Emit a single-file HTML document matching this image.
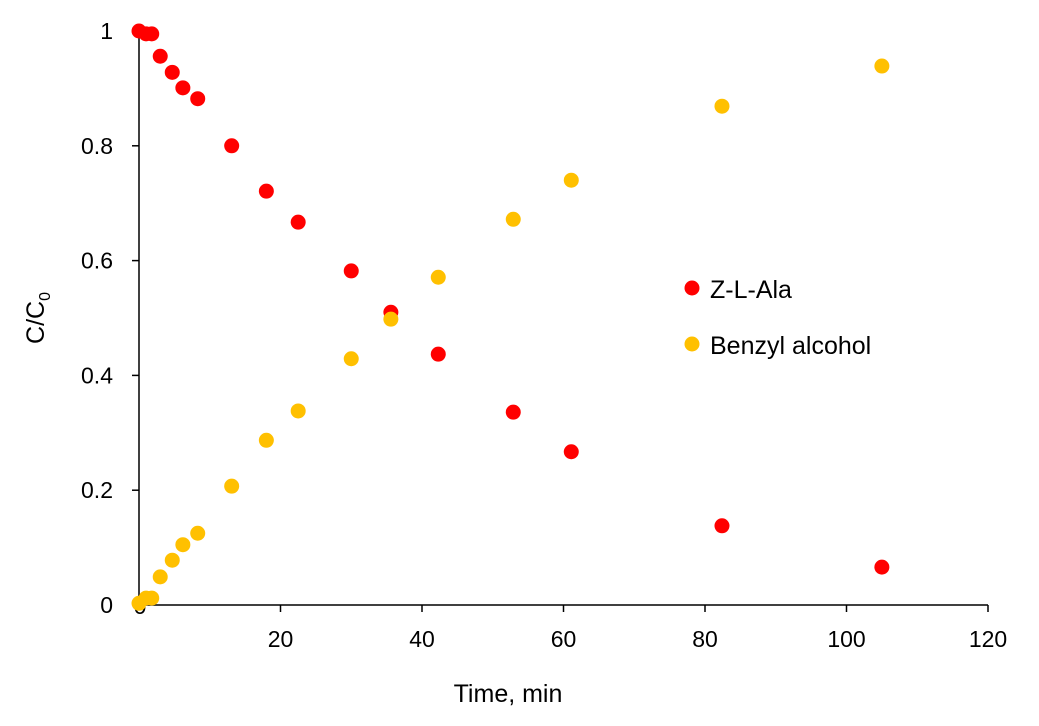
<!DOCTYPE html>
<html><head><meta charset="utf-8"><style>
html,body{margin:0;padding:0;background:#fff;}
svg text{font-family:"Liberation Sans","DejaVu Sans",sans-serif;fill:#000;}
</style></head><body>
<svg id="chart" width="1039" height="721" xmlns="http://www.w3.org/2000/svg"></svg>
<script>
const times=[0,1,1.8,3,4.7,6.2,8.3,13.1,18,22.5,30,35.6,42.3,52.9,61.1,82.4,105];
const zAla=[1,0.995,0.995,0.956,0.928,0.901,0.882,0.8,0.721,0.667,0.582,0.51,0.437,0.336,0.267,0.138,0.066];
const benzyl=[0.003,0.012,0.012,0.049,0.078,0.105,0.125,0.207,0.287,0.338,0.429,0.498,0.571,0.672,0.74,0.869,0.939];
const xTicks=[20,40,60,80,100,120];
const yTicks=[0,0.2,0.4,0.6,0.8,1];
const yTickLabels=["0","0.2","0.4","0.6","0.8","1"];

const svg=document.getElementById('chart');
const NS='http://www.w3.org/2000/svg';
const x0=139,x1=988,y0=605,y1=31;
function xs(v){return x0+(v/120)*(x1-x0);}
function ys(v){return y0-(v/1)*(y0-y1);}
function mk(tag,attrs){const e=document.createElementNS(NS,tag);for(const k in attrs)e.setAttribute(k,attrs[k]);svg.appendChild(e);return e;}

let ax=mk('line',{x1:x0,y1:y0,x2:x1,y2:y0,stroke:'#000','stroke-width':1.5});


let ay=mk('line',{x1:x0,y1:y0,x2:x0,y2:y1,stroke:'#000','stroke-width':1.5});



xTicks.forEach(t=>{
  let l=mk('line',{x1:xs(t),y1:y0,x2:xs(t),y2:y0+7,stroke:'#000','stroke-width':1.5});
  
  
  let tx=mk('text',{x:xs(t),y:y0+42,'text-anchor':'middle','font-size':23});
  tx.textContent=t;
  
  
});
let z=mk('text',{x:140,y:y0+9,'text-anchor':'middle','font-size':23});
z.textContent='0';


yTicks.forEach((t,i)=>{
  let l=mk('line',{x1:x0-7,y1:ys(t),x2:x0,y2:ys(t),stroke:'#000','stroke-width':1.5});
  
  
  let tx=mk('text',{x:x0-26,y:ys(t)+8,'text-anchor':'end','font-size':23});
  tx.textContent=yTickLabels[i];
  
  
});
let xt=mk('text',{x:508,y:702,'text-anchor':'middle','font-size':25});
xt.textContent='Time, min';


let yt=mk('text',{transform:'translate(44,318) rotate(-90)','text-anchor':'middle','font-size':25});
yt.innerHTML='C/C<tspan font-size="16" dy="6">0</tspan>';



times.forEach((t,i)=>{
  let c=mk('circle',{cx:xs(t),cy:ys(zAla[i]),r:7.5,fill:'#ff0000'});
  
  
});
times.forEach((t,i)=>{
  let c=mk('circle',{cx:xs(t),cy:ys(benzyl[i]),r:7.5,fill:'#ffc000'});
  
  
});

let lc1=mk('circle',{cx:692,cy:288,r:7.5,fill:'#ff0000'});


let lt1=mk('text',{x:710,y:298,'font-size':25});
lt1.textContent='Z-L-Ala';


let lc2=mk('circle',{cx:692,cy:344,r:7.5,fill:'#ffc000'});


let lt2=mk('text',{x:710,y:354,'font-size':25});
lt2.textContent='Benzyl alcohol';


</script>
</body></html>
